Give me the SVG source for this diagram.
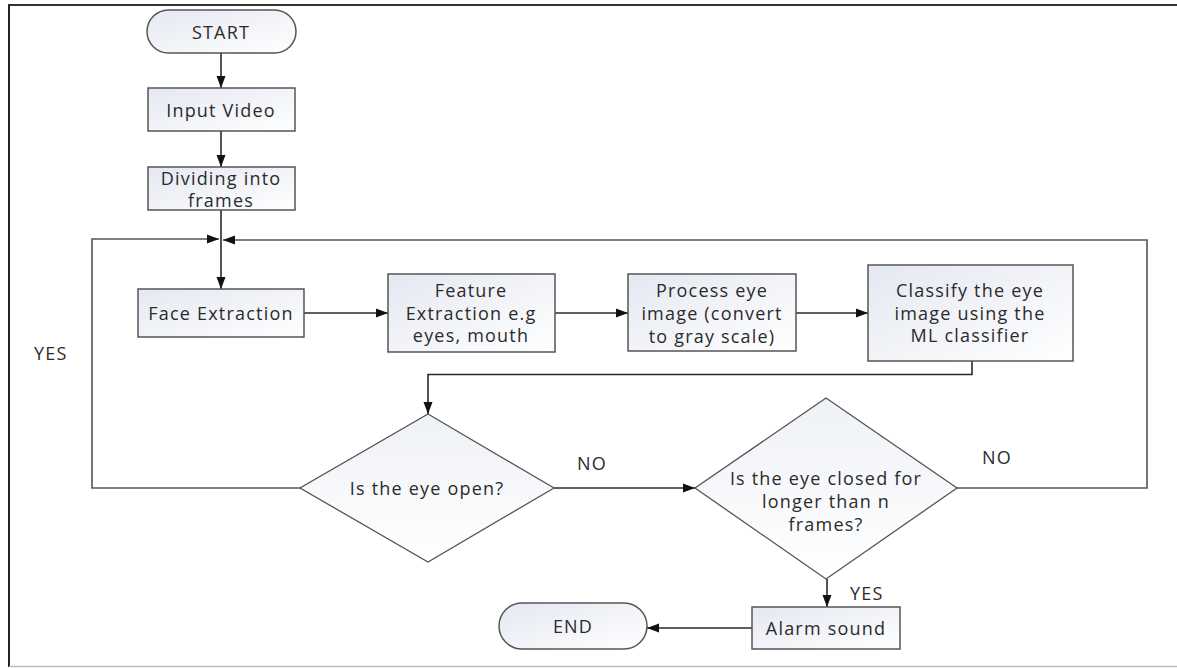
<svg xmlns="http://www.w3.org/2000/svg" width="1177" height="668" viewBox="0 0 1177 668">
<style>
.box{fill:url(#g);stroke:#555;stroke-width:1.5}
.dia{fill:url(#g2);stroke:#555;stroke-width:1.3}
.t{font-family:"Open Sans","Liberation Sans",sans-serif;font-size:18px;letter-spacing:1.2px;fill:#2b2b2b;text-anchor:middle}
.l{font-family:"Open Sans","Liberation Sans",sans-serif;font-size:18px;letter-spacing:1.2px;fill:#2b2b2b}
.c{fill:none;stroke:#2a2a2a;stroke-width:1.6}
.c2{fill:none;stroke:#555;stroke-width:1.6}
</style>
<defs>
<linearGradient id="g" x1="0" y1="0" x2="1" y2="1">
<stop offset="0" stop-color="#e4e8f1"/>
<stop offset="1" stop-color="#ffffff"/>
</linearGradient>
<linearGradient id="g2" x1="0" y1="0" x2="0" y2="1">
<stop offset="0" stop-color="#eef1f6"/>
<stop offset="1" stop-color="#ffffff"/>
</linearGradient>
<marker id="arr" viewBox="0 0 12 10" refX="12" refY="5" markerWidth="12" markerHeight="10" markerUnits="userSpaceOnUse" orient="auto">
<path d="M0,0.5 L12,5 L0,9.5 z" fill="#111"/>
</marker>
</defs>
<rect x="0" y="0" width="1177" height="668" fill="#fff"/>
<g id="frame">
<line x1="8" y1="5" x2="1177" y2="5" stroke="#333" stroke-width="2"/>
<line x1="9" y1="5" x2="9" y2="667" stroke="#222" stroke-width="2"/>
<line x1="9" y1="666.5" x2="1177" y2="666.5" stroke="#bbb" stroke-width="1.5"/>
</g>
<g id="connectors">
<line class="c" x1="221" y1="53" x2="221" y2="88" marker-end="url(#arr)"/>
<line class="c" x1="221" y1="131" x2="221" y2="167" marker-end="url(#arr)"/>
<line class="c" x1="221" y1="210" x2="221" y2="289" marker-end="url(#arr)"/>
<polyline class="c2" points="300,488 92,488 92,239 219,239" marker-end="url(#arr)"/>
<polyline class="c2" points="957,488 1147,488 1147,240 223,240" marker-end="url(#arr)"/>
<line class="c" x1="304" y1="313" x2="388" y2="313" marker-end="url(#arr)"/>
<line class="c" x1="555" y1="313" x2="628" y2="313" marker-end="url(#arr)"/>
<line class="c" x1="796" y1="313" x2="868" y2="313" marker-end="url(#arr)"/>
<polyline class="c" points="972,361 972,374.5 428,374.5 428,414" marker-end="url(#arr)"/>
<line class="c" x1="554" y1="488" x2="695" y2="488" marker-end="url(#arr)"/>
<line class="c" x1="827" y1="579" x2="827" y2="607" marker-end="url(#arr)"/>
<line class="c" x1="752" y1="628" x2="647" y2="628" marker-end="url(#arr)"/>
<text class="l" x="34" y="360">YES</text>
<text class="l" x="577" y="470">NO</text>
<text class="l" x="982" y="464">NO</text>
<text class="l" x="850" y="600">YES</text>
</g>
<g id="start">
<rect class="box" x="147" y="10" width="149" height="43" rx="21.5"/>
<text class="t" x="221" y="38.5">START</text>
</g>
<g id="input-video">
<rect class="box" x="148" y="88" width="147" height="43"/>
<text class="t" x="221" y="116.5">Input Video</text>
</g>
<g id="dividing">
<rect class="box" x="148" y="167" width="147" height="43"/>
<text class="t" x="221" y="184.5">Dividing into</text>
<text class="t" x="221" y="206.5">frames</text>
</g>
<g id="face-extraction">
<rect class="box" x="138" y="289" width="166" height="48"/>
<text class="t" x="221" y="319.5">Face Extraction</text>
</g>
<g id="feature-extraction">
<rect class="box" x="388" y="274" width="167" height="78"/>
<text class="t" x="471" y="296.5">Feature</text>
<text class="t" x="471" y="319.5">Extraction e.g</text>
<text class="t" x="471" y="341.5">eyes, mouth</text>
</g>
<g id="process-eye">
<rect class="box" x="628" y="274" width="168" height="77"/>
<text class="t" x="712" y="296.5">Process eye</text>
<text class="t" x="712" y="319.5">image (convert</text>
<text class="t" x="712" y="342.5">to gray scale)</text>
</g>
<g id="classify">
<rect class="box" x="868" y="265" width="205" height="96"/>
<text class="t" x="970" y="296.5">Classify the eye</text>
<text class="t" x="970" y="319.5">image using the</text>
<text class="t" x="970" y="341.5">ML classifier</text>
</g>
<g id="eye-open">
<polygon class="dia" points="428,414 554,488 428,562 300,488"/>
<text class="t" x="427" y="494.5">Is the eye open?</text>
</g>
<g id="eye-closed">
<polygon class="dia" points="826,398 957,488 826,579 695,488"/>
<text class="t" x="826" y="484.5">Is the eye closed for</text>
<text class="t" x="826" y="507.5">longer than n</text>
<text class="t" x="826" y="530.5">frames?</text>
</g>
<g id="alarm">
<rect class="box" x="752" y="607" width="148" height="42"/>
<text class="t" x="826" y="634.5">Alarm sound</text>
</g>
<g id="end">
<rect class="box" x="499" y="603" width="148" height="46" rx="23"/>
<text class="t" x="573" y="632.5">END</text>
</g>
</svg>
